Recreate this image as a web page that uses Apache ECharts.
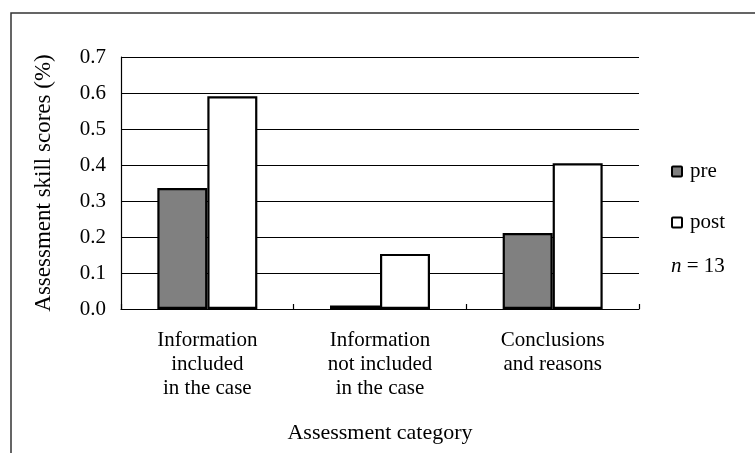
<!DOCTYPE html>
<html>
<head>
<meta charset="utf-8">
<script src="https://cdn.jsdelivr.net/npm/echarts@6/dist/echarts.min.js"></script>
<style>
  html, body { margin: 0; padding: 0; background: #fff; }
  #chart { width: 755px; height: 453px; }
</style>
</head>
<body>
<div id="chart"></div>
<script>
// Assessment categories (x axis)
const categories = [
  'Information\nincluded\nin the case',
  'Information\nnot included\nin the case',
  'Conclusions\nand reasons'
];
// Mean assessment skill scores before and after
const preScores = [0.336, 0.010, 0.211];
const postScores = [0.591, 0.153, 0.405];
// Value axis range
const yMin = 0, yMax = 0.7, yStep = 0.1;
const sampleSize = 13;

const serif = '"Liberation Serif", "Times New Roman", serif';

const chart = echarts.init(document.getElementById('chart'));
chart.setOption({
  animation: false,
  backgroundColor: '#fff',
  grid: { left: 121, right: 116, top: 57, bottom: 144 },
  legend: {
    orient: 'vertical',
    left: 666,
    top: 156,
    itemWidth: 10,
    itemHeight: 10,
    itemGap: 30,
    icon: 'path://M1,0 L9,0 Q10,0 10,1 L10,9 Q10,10 9,10 L1,10 Q0,10 0,9 L0,1 Q0,0 1,0 Z',
    itemStyle: { borderColor: '#000', borderWidth: 2 },
    textStyle: { fontFamily: serif, fontSize: 21, color: '#000', lineHeight: 20, padding: [0, 0, 0, 3] },
    data: ['pre', 'post']
  },
  graphic: [
    {
      type: 'rect',
      shape: { x: 11, y: 13, width: 800, height: 500 },
      style: { fill: 'none', stroke: '#333', lineWidth: 1.5 },
      silent: true
    },
    {
      type: 'text',
      left: 671,
      top: 256,
      style: {
        text: '{i|n} = ' + sampleSize,
        font: '21px ' + serif,
        fill: '#000',
        rich: { i: { fontStyle: 'italic', fontFamily: serif, fontSize: 21 } }
      }
    }
  ],
  xAxis: {
    type: 'category',
    data: categories,
    name: 'Assessment category',
    nameLocation: 'middle',
    nameGap: 113,
    nameTextStyle: { fontFamily: serif, fontSize: 22, color: '#000' },
    axisLine: { lineStyle: { color: '#000', width: 1.2 } },
    axisTick: { show: true, inside: true, length: 5, lineStyle: { color: '#000', width: 1.2 } },
    axisLabel: {
      interval: 0,
      margin: 19,
      fontFamily: serif,
      fontSize: 21,
      lineHeight: 24,
      color: '#000'
    }
  },
  yAxis: {
    type: 'value',
    min: yMin,
    max: yMax,
    interval: yStep,
    name: 'Assessment skill scores (%)',
    nameLocation: 'middle',
    nameGap: 66,
    nameTextStyle: { fontFamily: serif, fontSize: 23, color: '#000' },
    axisLine: { show: true, lineStyle: { color: '#000', width: 1.2 } },
    axisTick: { show: false },
    axisLabel: {
      margin: 15,
      fontFamily: serif,
      fontSize: 21,
      color: '#000',
      formatter: v => v.toFixed(1)
    },
    splitLine: { show: true, lineStyle: { color: '#000', width: 1.2 } }
  },
  series: [
    {
      name: 'pre',
      type: 'bar',
      data: preScores,
      barWidth: 50,
      barGap: '0%',
      itemStyle: { color: '#808080', borderColor: '#000', borderWidth: 2.2 }
    },
    {
      name: 'post',
      type: 'bar',
      data: postScores,
      barWidth: 50,
      itemStyle: { color: '#fff', borderColor: '#000', borderWidth: 2.2 }
    }
  ]
});
</script>
</body>
</html>
